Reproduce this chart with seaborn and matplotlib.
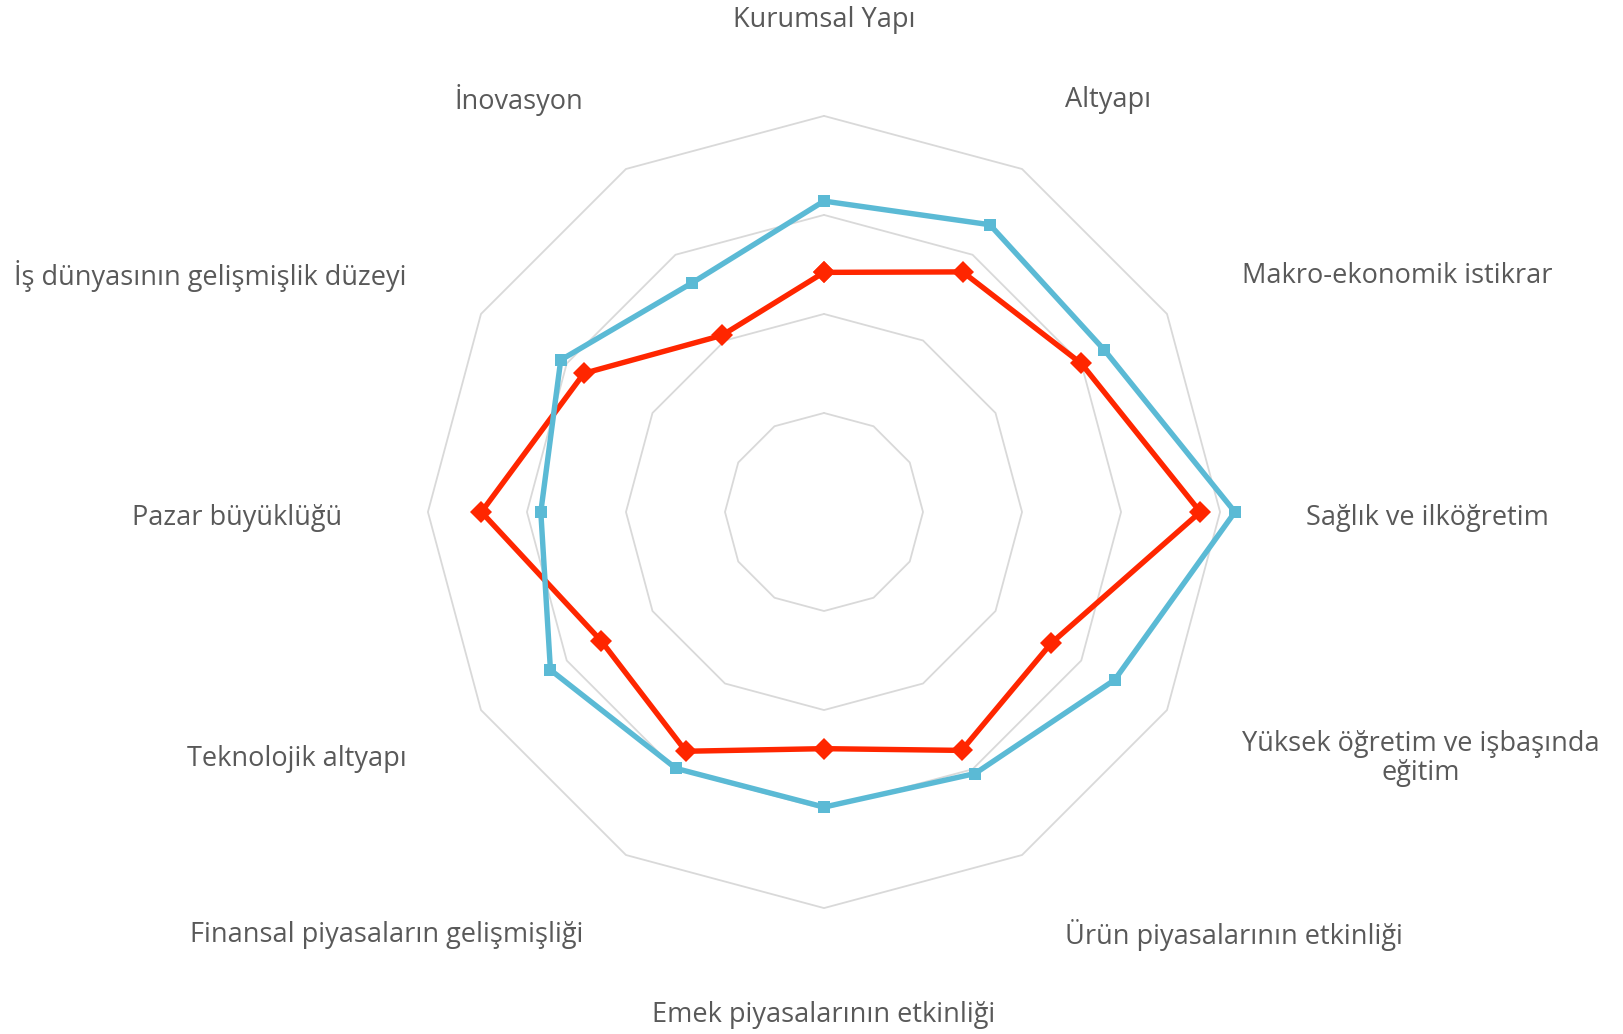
import numpy as np
import pandas as pd
import matplotlib
matplotlib.use("Agg")
import matplotlib.pyplot as plt
import matplotlib.transforms as mtransforms
import seaborn as sns

categories = [
    "Kurumsal Yapı", "Altyapı", "Makro-ekonomik istikrar", "Sağlık ve ilköğretim",
    "Yüksek öğretim ve işbaşında\neğitim", "Ürün piyasalarının etkinliği",
    "Emek piyasalarının etkinliği", "Finansal piyasaların gelişmişliği",
    "Teknolojik altyapı", "Pazar büyüklüğü", "İş dünyasının gelişmişlik düzeyi", "İnovasyon",
]
blue_values = [6.14, 6.35, 6.27, 7.15, 6.39, 6.05, 5.98, 5.99, 6.19, 5.86, 6.07, 5.67]
red_values = [5.42, 5.80, 6.00, 6.80, 5.65, 5.78, 5.39, 5.79, 5.60, 6.46, 5.80, 5.06]
grid_levels = [4, 5, 6, 7]
r_min, r_max = 3, 8.1

sns.set_theme(style="white")
plt.rcParams["font.family"] = ["Open Sans", "DejaVu Sans"]

W, H = 1624, 1034
fig = plt.figure(figsize=(W / 100, H / 100), dpi=100)
cx, cy, rad = 824, 512, 505
ax = fig.add_axes([(cx - rad) / W, (H - cy - rad) / H, 2 * rad / W, 2 * rad / H], projection="polar")
ax.set_theta_zero_location("N")
ax.set_theta_direction(-1)
ax.set_ylim(r_min, r_max)
ax.grid(False)
ax.spines["polar"].set_visible(False)
ax.set_xticks([])
ax.set_yticks([])
ax.set_facecolor("none")

n = len(categories)
angles = np.arange(n) * 2 * np.pi / n
closed_angles = np.append(angles, 2 * np.pi)

for lvl in grid_levels:
    ax.plot(closed_angles, [lvl] * (n + 1), color="#D9D9D9", lw=1.3, zorder=1)

def closed_df(vals):
    return pd.DataFrame({"theta": closed_angles, "value": list(vals) + [vals[0]]})

sns.lineplot(data=closed_df(red_values), x="theta", y="value", sort=False, estimator=None,
             ax=ax, color="#FF2600", lw=3.9, marker="D", markersize=11.5,
             markeredgewidth=0, zorder=3)
sns.lineplot(data=closed_df(blue_values), x="theta", y="value", sort=False, estimator=None,
             ax=ax, color="#5BBAD5", lw=3.9, marker="s", markersize=8.5,
             markeredgewidth=0, zorder=4)
ax.set_xlabel("")
ax.set_ylabel("")
ax.set_ylim(r_min, r_max)

offset = mtransforms.ScaledTranslation(0, -4 / 72, fig.dpi_scale_trans)
for i, (a, lab) in enumerate(zip(angles, categories)):
    deg = np.degrees(a)
    if np.isclose(deg, 0) or np.isclose(deg, 180):
        ha, r = "center", r_min + 5.02
    elif deg < 180:
        ha, r = "left", r_min + 4.87
    else:
        ha, r = "right", r_min + 4.87
    ax.text(a, r, lab, ha=ha, va="center", multialignment="center",
            fontsize=19.5, color="#595959", clip_on=False, linespacing=1.05,
            transform=ax.transData + offset)

fig.savefig("out.png", dpi=100, facecolor="white")
